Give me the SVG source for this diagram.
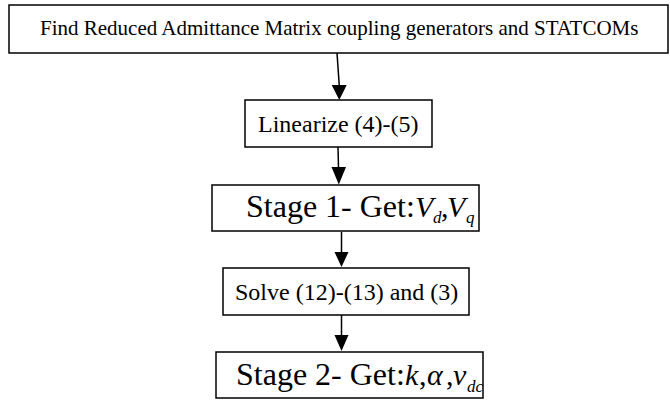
<svg xmlns="http://www.w3.org/2000/svg" width="670" height="400" viewBox="0 0 670 400">
<style>
.box{fill:#fff;stroke:#000;stroke-width:1.5}
.t{font-family:"Liberation Serif","Times New Roman",serif;fill:#000}
.i{font-style:italic}
.c{stroke:#000;stroke-width:1.5;fill:none}
</style>
<defs>
<marker id="ah" viewBox="0 0 15 15" refX="7.5" refY="15" markerWidth="15" markerHeight="15" markerUnits="userSpaceOnUse" orient="auto-start-reverse">
<path d="M0,0 L15,0 L7.5,15 Z" fill="#000"/>
</marker>
</defs>
<rect width="670" height="400" fill="#fff"/>
<g id="connectors">
<path class="c" d="M337,53 L339.3,86"/><polygon points="331.7,85 346.7,85 339.3,100" fill="#000"/>
<path class="c" d="M338,147 L338.5,168"/><polygon points="331.5,167 346,167 338.8,184.5" fill="#000"/>
<path class="c" d="M341.5,232 L341.5,253"/><polygon points="334.5,252 348.5,252 341.5,267" fill="#000"/>
<path class="c" d="M341.5,315 L341.5,336"/><polygon points="334.5,335 348.5,335 341.5,351" fill="#000"/>
</g>
<g id="n1">
<rect class="box" x="9" y="5" width="659" height="48"/>
<text class="t" x="40" y="35" font-size="21">Find Reduced Admittance Matrix coupling generators and STATCOMs</text>
</g>
<g id="n2">
<rect class="box" x="245" y="100" width="187" height="47"/>
<text class="t" x="258" y="132" font-size="24">Linearize (4)-(5)</text>
</g>
<g id="n3">
<rect class="box" x="212" y="185" width="267" height="46"/>
<text class="t" x="246" y="217" font-size="32">Stage 1- Get:</text>
<text class="t i" x="415" y="217" font-size="30">V</text>
<text class="t i" x="433" y="223" font-size="17">d</text>
<text class="t" x="441" y="217" font-size="30">,</text>
<text class="t i" x="447" y="217" font-size="30">V</text>
<text class="t i" x="466" y="223" font-size="17">q</text>
</g>
<g id="n4">
<rect class="box" x="223" y="268" width="246" height="47"/>
<text class="t" x="235" y="300" font-size="24">Solve (12)-(13) and (3)</text>
</g>
<g id="n5">
<rect class="box" x="216" y="352" width="267" height="46"/>
<text class="t" x="236" y="385" font-size="32">Stage 2- Get:</text>
<text class="t i" x="405" y="385" font-size="30">k</text>
<text class="t" x="419" y="385" font-size="30">,</text>
<text class="t i" x="427" y="385" font-size="30">α</text>
<text class="t" x="446" y="385" font-size="30">,</text>
<text class="t i" x="453" y="385" font-size="30">v</text>
<text class="t i" x="467" y="392" font-size="17">dc</text>
</g>
</svg>
